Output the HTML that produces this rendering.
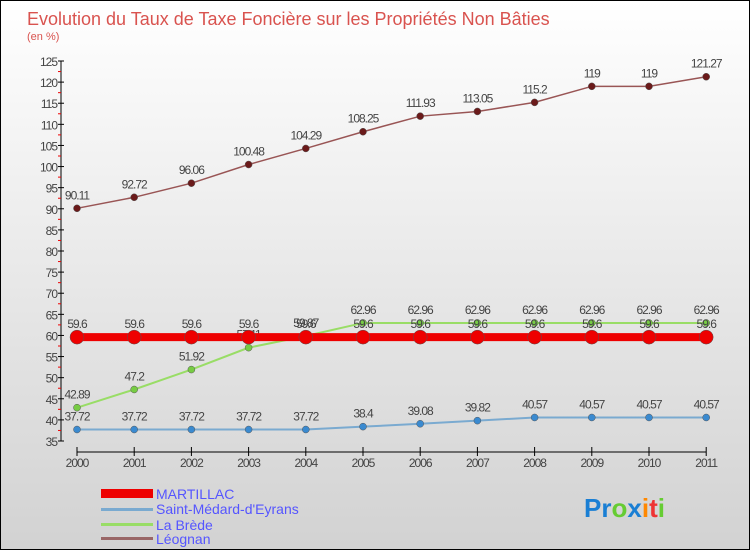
<!DOCTYPE html>
<html><head><meta charset="utf-8"><style>
body{margin:0}
#c{width:750px;height:550px;position:relative;font-family:"Liberation Sans",sans-serif;background:linear-gradient(#fff,#d2d2d2);border:1px solid #000;box-sizing:border-box;overflow:hidden}
</style></head><body>
<div id="c">
<svg id="s" width="750" height="550" style="position:absolute;left:0;top:0">
<text x="26" y="24" font-size="18" fill="#d9534f">Evolution du Taux de Taxe Foncière sur les Propriétés Non Bâties</text>
<text x="26" y="39" font-size="11" fill="#d9534f">(en %)</text>
<g id="axes"></g><g id="series"></g>
<g>
<rect x="100" y="488" width="52" height="9" fill="#e00"/>
<text x="155" y="498" font-size="14" fill="#55f">MARTILLAC</text>
<rect x="100" y="507" width="52" height="3" fill="#7aaad0"/>
<text x="155" y="513" font-size="14" fill="#55f">Saint-Médard-d'Eyrans</text>
<rect x="100" y="522" width="52" height="3" fill="#9d6"/>
<text x="155" y="529" font-size="14" fill="#55f">La Brède</text>
<rect x="100" y="536" width="52" height="3" fill="#966"/>
<text x="155" y="543" font-size="14" fill="#55f">Léognan</text>
</g>
<text x="583" y="516" font-size="26" font-weight="bold"><tspan fill="#1a7fd4">Pr</tspan><tspan fill="#6c3">o</tspan><tspan fill="#1a7fd4">x</tspan><tspan fill="#f80">i</tspan><tspan fill="#e33">t</tspan><tspan fill="#6c3">i</tspan></text>
</svg>
</div>
<script>
const years=["2000","2001","2002","2003","2004","2005","2006","2007","2008","2009","2010","2011"];
const yTicks=[35,40,45,50,55,60,65,70,75,80,85,90,95,100,105,110,115,120,125];
const martillac=[59.6,59.6,59.6,59.6,59.6,59.6,59.6,59.6,59.6,59.6,59.6,59.6];
const saintMedard=[37.72,37.72,37.72,37.72,37.72,38.4,39.08,39.82,40.57,40.57,40.57,40.57];
const laBrede=[42.89,47.2,51.92,57.11,59.87,62.96,62.96,62.96,62.96,62.96,62.96,62.96];
const leognan=[90.11,92.72,96.06,100.48,104.29,108.25,111.93,113.05,115.2,119,119,121.27];
const NS="http://www.w3.org/2000/svg";
const X=i=>76+i*57.2, Y=v=>60+(125-v)*380/90;
function mk(t,a,p){const e=document.createElementNS(NS,t);for(const k in a)e.setAttribute(k,a[k]);p.appendChild(e);return e;}
const ax=document.getElementById('axes'), sg=document.getElementById('series');
const yl=mk('line',{x1:60,x2:60,y1:60,y2:440,stroke:'#000'},ax);


yTicks.forEach(v=>{
 mk('line',{x1:57,x2:63,y1:Y(v),y2:Y(v),stroke:'#000'},ax);
 if(v<125)mk('line',{x1:57,x2:60,y1:Y(v+2.5),y2:Y(v+2.5),stroke:'#e00'},ax);
 const t=mk('text',{x:56,y:Y(v)+5,'font-size':12,'text-anchor':'end',fill:'#444','letter-spacing':'-1'},ax);
 t.textContent=v;
 
 
});
const xl=mk('line',{x1:X(0),x2:X(11),y1:451,y2:451,stroke:'#000'},ax);


years.forEach((y,i)=>{
 mk('line',{x1:X(i),x2:X(i),y1:446,y2:455,stroke:'#000'},ax);
 const t=mk('text',{x:X(i),y:466,'font-size':12,'text-anchor':'middle',fill:'#444','letter-spacing':'-1'},ax);
 t.textContent=y;
 
 
});
function series(name,data,color,dot,w,r,fmt){
 const g=mk('g',{},sg);
 
 
 mk('polyline',{points:data.map((v,i)=>X(i)+','+Y(v)).join(' '),fill:'none',stroke:color,'stroke-width':w},g);
 data.forEach((v,i)=>{
  const c=mk('circle',{cx:X(i),cy:Y(v),r:r,fill:dot,stroke:'#555','stroke-width':0.5},g);
  
  
  const t=mk('text',{x:X(i),y:Y(v)-9,'font-size':12,'text-anchor':'middle',fill:'#444','letter-spacing':'-1'},g);
  t.textContent=String(v);
  
  
 });
}
series('leognan',leognan,'#955','#6b1a1a',1.5,3.5);
series('saint-medard',saintMedard,'#7aaad0','#3a8ad0',2,3.5);
series('la-brede',laBrede,'#9d6','#7c4',2,3.5);
series('martillac',martillac,'#e00','#e00',8,7);
</script>
</body></html>
